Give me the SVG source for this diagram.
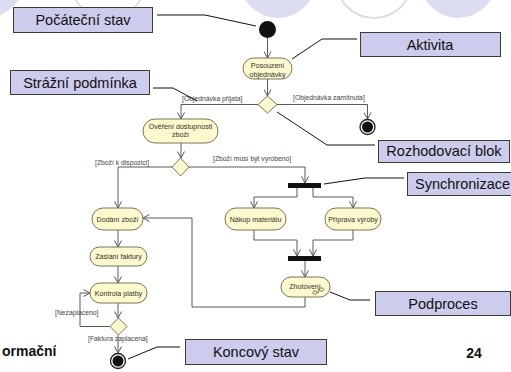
<svg xmlns="http://www.w3.org/2000/svg" width="511" height="372" viewBox="0 0 511 372">
  <style>
    .deco-fill { fill: #dcdcf0; }
    .deco-ring { fill: none; stroke: #d6d6ee; stroke-width: 1.5; }
    .note rect { fill: #ccccec; stroke: #3a3a3a; stroke-width: 1; }
    .note text { font-family: "Liberation Sans", Arial, sans-serif; font-size: 14.5px; fill: #111; text-anchor: middle; }
    .pointer { fill: none; stroke: #111; stroke-width: 1; }
    .act rect { fill: #fcf9cc; stroke: #77775a; stroke-width: 1; }
    .act text { font-family: "Liberation Sans", Arial, sans-serif; font-size: 7.1px; fill: #333; text-anchor: middle; }
    .dec polygon { fill: #fcf9cc; stroke: #77775a; stroke-width: 1; }
    .flow { fill: none; stroke: #5a5a5a; stroke-width: 1; marker-end: url(#arrow); }
    .guard { font-family: "Liberation Sans", Arial, sans-serif; font-size: 6.8px; fill: #444; }
    .bar { fill: #111; }
    .page { font-family: "Liberation Sans", Arial, sans-serif; font-size: 14px; font-weight: bold; fill: #111; }
  </style>
  <defs>
    <marker id="arrow" viewBox="0 0 8 8" refX="7" refY="4" markerWidth="8" markerHeight="8" markerUnits="userSpaceOnUse" orient="auto">
      <path d="M0.5,0.5 L7,4 L0.5,7.5" fill="none" stroke="#5a5a5a" stroke-width="1"/>
    </marker>
    <clipPath id="leftcut">
      <rect x="0" y="330" width="56" height="40"/>
    </clipPath>
  </defs>

  <rect x="0" y="0" width="511" height="372" fill="#ffffff"/>

  <!-- decorative header circles -->
  <g id="header-deco">
    <circle class="deco-fill" cx="-14" cy="-20" r="38"/>
    <circle class="deco-ring" cx="108" cy="-20" r="38"/>
    <circle class="deco-fill" cx="278" cy="-20" r="38"/>
    <circle class="deco-ring" cx="374" cy="-20" r="38"/>
    <circle class="deco-fill" cx="458" cy="-20" r="38"/>
  </g>

  <!-- footer -->
  <text class="page" x="2" y="356" clip-path="url(#leftcut)">ormační</text>
  <text class="page" x="474" y="358" text-anchor="middle">24</text>

  <!-- connectors -->
  <g id="connectors">
    <path class="flow" d="M267.5,38 V58"/>
    <path class="flow" d="M267.5,79 V96"/>
    <path class="flow" d="M258,104.5 H181 V119"/>
    <path class="flow" d="M277,104.5 H367.5 V119"/>
    <path class="flow" d="M181,143 V158"/>
    <path class="flow" d="M172,167 H118 V208"/>
    <path class="flow" d="M189,167 H305 V183"/>
    <path class="flow" d="M297,188 V197 H254 V208"/>
    <path class="flow" d="M313,188 V197 H353 V208"/>
    <path class="flow" d="M254,230 V240 H297 V256"/>
    <path class="flow" d="M353,230 V240 H313 V256"/>
    <path class="flow" d="M305,261 V277"/>
    <path class="flow" d="M305,297 V307 H192 V218 H143"/>
    <path class="flow" d="M118,230 V247"/>
    <path class="flow" d="M118,266 V283"/>
    <path class="flow" d="M118,303 V318"/>
    <path class="flow" d="M110,326.5 H80 V293 H90"/>
    <path class="flow" d="M118,335 V353"/>

    <text class="guard" x="182" y="100.5">[Objednávka přijata]</text>
    <text class="guard" x="293" y="99.5">[Objednávka zamítnuta]</text>
    <text class="guard" x="95" y="164.5">[Zboží k dispozici]</text>
    <text class="guard" x="213" y="160.5">[Zboží musí být vyrobeno]</text>
    <text class="guard" x="55" y="314.5">[Nezaplaceno]</text>
    <text class="guard" x="88" y="340.5">[Faktura zaplacena]</text>
  </g>

  <!-- callout pointers -->
  <g id="pointers">
    <polyline class="pointer" points="157,15 205,15 256,26"/>
    <polyline class="pointer" points="153,88 173,88 197,101"/>
    <polyline class="pointer" points="357,39 322,39 292,59"/>
    <polyline class="pointer" points="375,145 327,145 277,112"/>
    <polyline class="pointer" points="324,184 365,178 404,178"/>
    <polyline class="pointer" points="370,300 350,300 330,292"/>
    <polyline class="pointer" points="180,347 157,347 128,359"/>
  </g>

  <!-- start / end -->
  <g id="start">
    <circle cx="267.5" cy="29.5" r="8.5" fill="#111"/>
  </g>
  <g id="end-rejected">
    <circle cx="367.5" cy="127" r="7.5" fill="#fff" stroke="#222" stroke-width="1.3"/>
    <circle cx="367.5" cy="127" r="5.5" fill="#111"/>
  </g>
  <g id="end-paid">
    <circle cx="118" cy="361" r="7.5" fill="#fff" stroke="#222" stroke-width="1.3"/>
    <circle cx="118" cy="361" r="5.5" fill="#111"/>
  </g>

  <!-- activities -->
  <g id="posouzeni" class="act">
    <rect x="243" y="58" width="49" height="21" rx="10.5"/>
    <text x="267.5" y="67.5">Posouzení</text>
    <text x="267.5" y="76.5">objednávky</text>
  </g>
  <g id="overeni" class="act">
    <rect x="143" y="119" width="75" height="24" rx="12"/>
    <text x="180.5" y="129">Ověření dostupnosti</text>
    <text x="180.5" y="137">zboží</text>
  </g>
  <g id="dodani" class="act">
    <rect x="92" y="208" width="51" height="22" rx="11"/>
    <text x="117.5" y="221.5">Dodání zboží</text>
  </g>
  <g id="zaslani" class="act">
    <rect x="90" y="247" width="57" height="19" rx="9.5"/>
    <text x="118.5" y="259">Zaslání faktury</text>
  </g>
  <g id="kontrola" class="act">
    <rect x="90" y="283" width="57" height="20" rx="10"/>
    <text x="118.5" y="295.5">Kontrola platby</text>
  </g>
  <g id="nakup" class="act">
    <rect x="225" y="208" width="61" height="22" rx="11"/>
    <text x="255.5" y="221.5">Nákup materiálu</text>
  </g>
  <g id="priprava" class="act">
    <rect x="325" y="208" width="56" height="22" rx="11"/>
    <text x="353" y="221.5">Příprava výroby</text>
  </g>
  <g id="zhotoveni" class="act">
    <rect x="281" y="277" width="49" height="20" rx="10"/>
    <text x="305" y="288.5">Zhotovení</text>
    <g fill="none" stroke="#555" stroke-width="0.7">
      <rect x="313" y="291" width="4" height="3" rx="1.2"/>
      <rect x="319.5" y="288" width="4" height="3" rx="1.2"/>
      <path d="M317,292.5 H318.5 V289.5 H319.5"/>
    </g>
  </g>

  <!-- decisions -->
  <g id="decision-order" class="dec">
    <polygon points="267.5,96 277,104.5 267.5,113 258,104.5"/>
  </g>
  <g id="decision-stock" class="dec">
    <polygon points="180.5,158 189,167 180.5,176 172,167"/>
  </g>
  <g id="decision-payment" class="dec">
    <polygon points="118.5,318 127,326.5 118.5,335 110,326.5"/>
  </g>

  <!-- fork / join bars -->
  <g id="fork">
    <rect class="bar" x="288" y="183" width="33" height="5"/>
  </g>
  <g id="join">
    <rect class="bar" x="288" y="256" width="33" height="5"/>
  </g>

  <!-- callout labels -->
  <g id="note-start" class="note">
    <rect x="13.5" y="7.5" width="139" height="25"/>
    <text x="83" y="25">Počáteční stav</text>
  </g>
  <g id="note-guard" class="note">
    <rect x="10.5" y="70.5" width="139" height="24"/>
    <text x="80" y="88">Strážní podmínka</text>
  </g>
  <g id="note-activity" class="note">
    <rect x="360.5" y="32.5" width="140" height="24"/>
    <text x="430" y="49.5">Aktivita</text>
  </g>
  <g id="note-decision" class="note">
    <rect x="378.5" y="140.5" width="131" height="22"/>
    <text x="444" y="156">Rozhodovací blok</text>
  </g>
  <g id="note-sync" class="note">
    <rect x="407.5" y="172.5" width="120" height="23"/>
    <text x="415" y="189" text-anchor="start" style="text-anchor:start">Synchronizace</text>
  </g>
  <g id="note-subprocess" class="note">
    <rect x="375.5" y="291.5" width="135" height="24"/>
    <text x="443" y="309">Podproces</text>
  </g>
  <g id="note-end" class="note">
    <rect x="185.5" y="339.5" width="141" height="25"/>
    <text x="256" y="357">Koncový stav</text>
  </g>
</svg>
